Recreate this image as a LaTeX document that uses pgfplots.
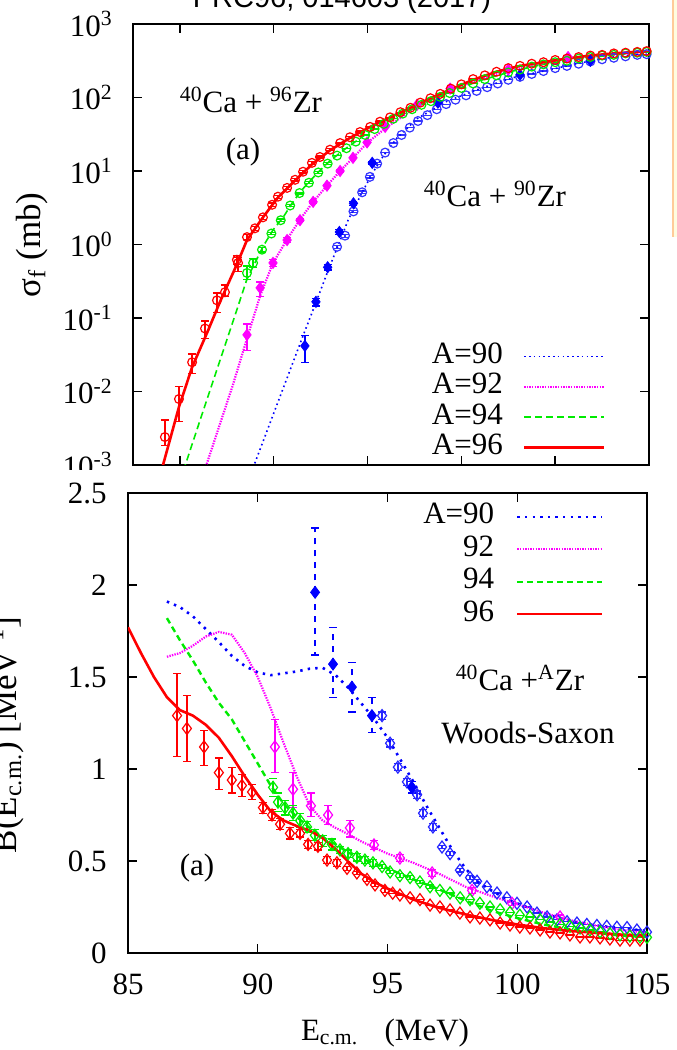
\documentclass[border=0pt]{standalone}
\usepackage{fontspec}
\setmainfont{Liberation Serif}
\newfontfamily\sansfont{Liberation Sans}
\usepackage{pgfplots}
\pgfplotsset{compat=1.18}
\newcommand\fs{\fontsize{15.5}{18}\selectfont}
\newcommand\fl{\fontsize{17.5}{20}\selectfont}
\definecolor{cred}{RGB}{255,0,0}
\definecolor{cgreen}{RGB}{0,235,0}
\definecolor{cmag}{RGB}{255,0,255}
\definecolor{cblue}{RGB}{0,0,255}
\pgfplotsset{
  ebar/.style={/pgfplots/error bars/y dir=both, /pgfplots/error bars/y explicit,
    /pgfplots/error bars/error mark options={rotate=90, mark size=2pt, line width=0.6pt, solid},
    /pgfplots/error bars/error bar style={line width=0.7pt}},
  ebard/.style={/pgfplots/error bars/y dir=both, /pgfplots/error bars/y explicit,
    /pgfplots/error bars/error mark options={rotate=90, mark size=2pt, line width=0.6pt, solid},
    /pgfplots/error bars/error bar style={line width=0.7pt, dashed}},
  common/.style={scale only axis, anchor=south west,
    tick label style={font=\fs},
    major tick length=4.5pt,
    tick style={black, line width=0.7pt},
    axis line style={line width=0.8pt},
    legend cell align=right,
    legend plot pos=right}
}
\begin{document}
\begin{tikzpicture}[x=1pt,y=1pt]
\path[use as bounding box] (0,0) rectangle (338,525);
\node[font=\sansfont\fontsize{14.5}{17}\selectfont, anchor=base] at (171,521) {PRC96, 014603 (2017)};
\fill[yellow!12] (336.5,406.5) rectangle (340,530);
\draw[orange!40, line width=0.6pt] (336.5,406.5) -- (336.5,530);

% ================= TOP PANEL =================
\begin{axis}[common,
  at={(66.5pt,292.5pt)}, width=258pt, height=220.5pt,
  xmin=84, xmax=106, ymode=log, ymin=1e-3, ymax=1e3,
  xtick={86,90,94,98,102}, xticklabels=\empty,
  ytick={1e-3,1e-2,1e-1,1,10,100,1000},
  yticklabels={10\textsuperscript{-3},10\textsuperscript{-2},10\textsuperscript{-1},10\textsuperscript{0},10\textsuperscript{1},10\textsuperscript{2},10\textsuperscript{3}},
  yminorticks=false, xminorticks=false,
  yticklabel style={inner sep=0pt, xshift=-10pt},
  legend image code/.code={\draw[#1] (0pt,0pt) -- (40pt,0pt);},
  legend style={draw=none, fill=none, font=\fs, at={(0.928,0.290)}, anchor=north east,
    nodes={inner sep=0pt, text height=11pt, text depth=4pt}, row sep=0.15pt, column sep=10pt},
]
\addlegendimage{cblue, line width=0.8pt, dash pattern=on 0.8pt off 1.6pt}
\addlegendentry{A=90}
\addlegendimage{cmag, line width=1.1pt, dash pattern=on 0.7pt off 0.6pt}
\addlegendentry{A=92}
\addlegendimage{cgreen, line width=0.8pt, dash pattern=on 3.5pt off 2pt}
\addlegendentry{A=94}
\addlegendimage{cred, line width=1.3pt}
\addlegendentry{A=96}

% blue open circles
\addplot[only marks, cblue!80, mark=o, mark size=2.2pt, mark options={line width=0.6pt}, forget plot, ebar]
table[x=x,y=y,y error plus=ep,y error minus=em]{
x y ep em
92.70 0.93 0.05 0.05
93.04 1.32 0.06 0.06
93.40 2.82 0.1 0.1
93.77 5.13 0.2 0.2
94.10 8.32 0.3 0.3
94.41 12.6 0.4 0.4
94.75 17.8 0 0
95.10 24.0 0 0
95.45 30.9 0 0
95.80 38.9 0 0
96.15 47.9 0 0
96.55 57.5 0 0
96.95 69.2 0 0
97.35 81.3 0 0
97.75 93.3 0 0
98.2 107 0 0
98.65 123 0 0
99.1 138 0 0
99.55 155 0 0
100.0 174 0 0
100.5 191 0 0
101.0 209 0 0
101.5 229 0 0
102.0 251 0 0
102.5 269 0 0
103.0 288 0 0
103.5 309 0 0
104.0 331 0 0
104.5 347 0 0
105.0 363 0 0
105.5 380 0 0
105.9 389 0 0
};
% blue filled diamonds
\addplot[only marks, cblue, mark=diamond*, mark size=2.8pt, forget plot, ebar]
table[x=x,y=y,y error plus=ep,y error minus=em]{
x y ep em
91.33 0.0417 0.016 0.0166
91.8 0.166 0.02 0.02
92.3 0.49 0.04 0.04
92.8 1.48 0.1 0.1
93.4 3.63 0.2 0.2
94.2 12.9 0.5 0.5
97.0 85.1 0 0
100.5 204 0 0
103.5 316 0 0
};
% magenta filled diamonds
\addplot[only marks, cmag, mark=diamond*, mark size=2.8pt, forget plot, ebar]
table[x=x,y=y,y error plus=ep,y error minus=em]{
x y ep em
88.86 0.059 0.024 0.023
89.42 0.257 0.052 0.062
89.97 0.562 0.06 0.06
90.57 1.15 0.08 0.08
91.12 2.14 0.1 0.1
91.68 3.80 0.15 0.15
92.27 6.31 0.2 0.2
92.83 10.0 0.3 0.3
93.38 15.1 0 0
93.98 24.5 0 0
94.75 39.8 0 0
96.11 79.4 0 0
97.52 132 0 0
100.0 240 0 0
102.55 355 0 0
};
% green open circles
\addplot[only marks, cgreen, mark=o, mark size=2.2pt, mark options={line width=0.6pt}, forget plot, ebar]
table[x=x,y=y,y error plus=ep,y error minus=em]{
x y ep em
88.86 0.41 0.10 0.08
89.12 0.56 0.08 0.07
89.5 0.85 0.06 0.06
89.9 1.41 0.05 0.05
90.3 2.14 0.08 0.08
90.7 3.39 0.1 0.1
91.1 5.01 0.15 0.15
91.5 6.92 0.2 0.2
91.9 9.55 0.3 0.3
92.3 12.6 0.4 0.4
92.7 16.2 0 0
93.1 20.4 0 0
93.5 25.1 0 0
93.9 30.9 0 0
94.3 37.2 0 0
94.7 43.7 0 0
95.1 51.3 0 0
95.5 60.3 0 0
95.9 69.2 0 0
96.3 79.4 0 0
96.7 89.1 0 0
97.1 102 0 0
97.5 115 0 0
98.0 135 0 0
98.5 155 0 0
99.0 178 0 0
99.5 200 0 0
100.0 219 0 0
100.5 240 0 0
101.0 263 0 0
101.5 282 0 0
102.0 302 0 0
102.5 316 0 0
103.0 339 0 0
103.5 355 0 0
104.0 372 0 0
104.5 380 0 0
105.0 398 0 0
105.5 407 0 0
105.9 417 0 0
};
% red open circles
\addplot[only marks, cred, mark=o, mark size=2.2pt, mark options={line width=0.6pt}, forget plot, ebar]
table[x=x,y=y,y error plus=ep,y error minus=em]{
x y ep em
85.36 0.0024 0.0017 0.00054
85.96 0.0079 0.0038 0.0040
86.52 0.025 0.0073 0.0073
87.07 0.072 0.019 0.019
87.58 0.174 0.045 0.054
87.92 0.224 0.058 0.029
88.43 0.62 0.08 0.08
88.48 0.56 0.11 0.13
88.86 1.26 0.1 0.1
89.20 1.66 0.1 0.1
89.54 2.34 0.15 0.15
89.93 3.47 0.2 0.2
90.18 4.47 0.2 0.2
90.57 5.89 0.3 0.3
90.91 7.59 0.3 0.3
91.25 9.77 0.4 0.4
91.63 12.9 0.5 0.5
91.97 15.5 0.5 0.5
92.40 19.5 0.6 0.6
92.83 24.0 0.7 0.7
93.25 28.8 0.8 0.8
93.68 33.9 1 1
94.11 39.8 1 1
94.53 46.8 1 1
94.96 53.7 0 0
95.4 63.1 0 0
95.83 72.4 0 0
96.25 85.1 0 0
96.68 97.7 0 0
97.1 112 0 0
97.55 132 0 0
98.0 151 0 0
98.5 178 0 0
99.0 200 0 0
99.5 224 0 0
100.0 251 0 0
100.5 269 0 0
101.0 288 0 0
101.5 302 0 0
102.0 324 0 0
102.5 339 0 0
103.0 355 0 0
103.5 372 0 0
104.0 380 0 0
104.5 398 0 0
105.0 407 0 0
105.5 417 0 0
105.9 427 0 0
};
% curves
\addplot[cblue, line width=0.8pt, dash pattern=on 0.8pt off 1.6pt, forget plot] coordinates {
(88.9,0.0006)(89.2,0.00107)(89.9,0.00417)(90.6,0.0162)(91.3,0.0631)(91.8,0.162)(92.3,0.427)(92.7,0.891)(93.17,2.14)(93.77,5.13)(94.23,9.55)(94.66,15.8)(95.26,28.2)(96.11,51.3)(97.39,89.1)(98.8,132)(100.2,186)(101.65,234)(103.06,295)(104.47,355)(105.9,398)};
\addplot[cmag, line width=1.1pt, dash pattern=on 0.7pt off 0.6pt, forget plot] coordinates {
(86.9,0.0006)(87.16,0.00107)(87.71,0.00363)(88.26,0.0123)(88.86,0.0525)(89.42,0.2)(89.97,0.562)(90.57,1.17)(91.12,2.19)(91.68,3.80)(92.27,6.31)(92.83,10)(93.38,15.1)(93.98,24)(94.75,38)(96.11,75.9)(97.52,126)(99.65,219)(102.55,339)(105.9,417)};
\addplot[cgreen, line width=0.8pt, dash pattern=on 3.5pt off 2pt, forget plot] coordinates {
(86.0,0.0006)(86.26,0.00107)(86.86,0.00407)(87.58,0.02)(88.26,0.089)(88.86,0.339)(89.54,0.933)(89.97,1.58)(90.40,2.34)(90.82,3.80)(91.25,5.75)(91.85,9.33)(92.40,13.8)(93.13,20.9)(93.98,32.4)(94.66,43.7)(95.39,57.5)(96.4,83.2)(97.39,115)(98.8,170)(100.2,229)(101.6,288)(103.06,339)(104.5,380)(105.9,417)};
\addplot[cred, line width=1.3pt, forget plot] coordinates {
(85.0,0.00056)(85.28,0.001)(85.96,0.00617)(86.52,0.0214)(87.16,0.0631)(87.71,0.166)(88.43,0.537)(88.86,1.15)(89.54,2.34)(90.18,4.37)(90.91,7.41)(91.63,12.3)(92.40,19.1)(93.25,28.2)(94.11,39.8)(94.96,53.7)(95.83,72.4)(96.68,97.7)(97.55,129)(98.5,174)(99.5,224)(100.5,269)(101.5,302)(102.5,339)(103.5,372)(104.5,398)(105.9,427)};
\end{axis}

\fill[white] (-5,-5) rectangle (345,290);

% ================= BOTTOM PANEL =================
\begin{axis}[common,
  at={(64pt,48.5pt)}, width=259.5pt, height=230pt,
  xmin=85, xmax=105, ymin=0, ymax=2.5,
  xtick={85,90,95,100,105}, ytick={0,0.5,1,1.5,2,2.5},
  /pgf/number format/assume math mode=true,
  xticklabel style={inner sep=0pt, yshift=-10pt},
  yticklabel style={inner sep=0pt, xshift=-10.5pt},
  legend image code/.code={\draw[#1] (0pt,0pt) -- (42.5pt,0pt);},
  legend style={draw=none, fill=none, font=\fs, at={(0.929,0.990)}, anchor=north east,
    nodes={inner sep=0pt, text height=11pt, text depth=4pt}, row sep=1.2pt, column sep=11pt},
]
\addlegendimage{cblue, line width=1.3pt, dash pattern=on 1.2pt off 2.6pt}
\addlegendentry{A=90}
\addlegendimage{cmag, line width=1.1pt, dash pattern=on 0.7pt off 0.6pt}
\addlegendentry{92}
\addlegendimage{cgreen, line width=1.2pt, dash pattern=on 3pt off 2pt}
\addlegendentry{94}
\addlegendimage{cred, line width=1.3pt}
\addlegendentry{96}

% blue open diamonds
\addplot[only marks, cblue!85, mark=diamond, mark size=3pt, mark options={line width=0.6pt}, forget plot, ebar]
table[x=x,y=y,y error plus=ep,y error minus=em]{
x y ep em
94.79 1.29 0.02 0.02
95.1 1.14 0.02 0.02
95.4 1.01 0.02 0.02
95.75 0.93 0.02 0.02
96.14 0.86 0.02 0.02
96.37 0.76 0.02 0.02
96.75 0.685 0.02 0.02
97.1 0.576 0.01 0.01
97.41 0.54 0.01 0.01
97.79 0.45 0.01 0.01
98.18 0.41 0.01 0.01
98.45 0.39 0.01 0.01
98.83 0.36 0 0
99.22 0.326 0 0
99.6 0.30 0 0
99.99 0.27 0 0
100.38 0.25 0 0
100.76 0.217 0 0
101.15 0.196 0 0
101.53 0.18 0 0
101.92 0.17 0 0
102.3 0.163 0 0
102.68 0.155 0 0
103.07 0.15 0 0
103.45 0.145 0 0
103.84 0.14 0 0
104.23 0.138 0 0
104.61 0.125 0 0
105.0 0.114 0 0
};
% blue filled diamonds
\addplot[only marks, cblue, mark=diamond*, mark size=3pt, forget plot, ebard]
table[x=x,y=y,y error plus=ep,y error minus=em]{
x y ep em
92.21 1.96 0.35 0.34
92.9 1.57 0.20 0.18
93.63 1.445 0.135 0.135
94.4 1.29 0.10 0.09
95.94 0.90 0.03 0.03
};
% magenta open diamonds
\addplot[only marks, cmag, mark=diamond, mark size=3pt, mark options={line width=0.6pt}, forget plot, ebar]
table[x=x,y=y,y error plus=ep,y error minus=em]{
x y ep em
90.66 1.12 0.15 0.14
91.36 0.89 0.09 0.10
92.05 0.80 0.07 0.06
92.71 0.75 0.05 0.05
93.55 0.68 0.04 0.05
94.48 0.587 0.025 0.025
95.48 0.516 0.02 0.02
96.72 0.435 0.02 0.02
98.26 0.34 0.015 0.015
99.8 0.27 0.01 0.01
101.65 0.196 0.01 0.01
};
% green open diamonds
\addplot[only marks, cgreen, mark=diamond, mark size=3pt, mark options={line width=0.6pt}, forget plot, ebard]
table[x=x,y=y,y error plus=ep,y error minus=em]{
x y ep em
90.59 0.90 0.05 0.05
90.78 0.82 0.05 0.05
91.05 0.79 0.04 0.04
91.36 0.76 0.04 0.04
91.63 0.72 0.04 0.04
91.9 0.685 0.03 0.03
92.2 0.64 0.03 0.03
92.5 0.61 0.03 0.03
92.86 0.59 0.03 0.03
93.17 0.56 0.02 0.02
93.48 0.54 0.02 0.02
93.82 0.52 0.02 0.02
94.13 0.505 0.02 0.02
94.44 0.49 0.02 0.02
94.79 0.47 0.01 0.01
95.1 0.44 0.01 0.01
95.48 0.42 0.01 0.01
95.87 0.41 0.01 0.01
96.25 0.386 0.01 0.01
96.64 0.36 0.01 0.01
97.02 0.34 0 0
97.41 0.326 0 0
97.8 0.30 0 0
98.18 0.29 0 0
98.56 0.27 0 0
98.95 0.25 0 0
99.34 0.235 0 0
99.72 0.22 0 0
100.1 0.205 0 0
100.49 0.196 0 0
100.88 0.18 0 0
101.26 0.168 0 0
101.65 0.155 0 0
102.03 0.145 0 0
102.42 0.136 0 0
102.8 0.125 0 0
103.19 0.115 0 0
103.57 0.105 0 0
103.96 0.098 0 0
104.34 0.092 0 0
104.73 0.087 0 0
105.0 0.085 0 0
};
% red open diamonds
\addplot[only marks, cred, mark=diamond, mark size=3pt, mark options={line width=0.6pt}, forget plot, ebar]
table[x=x,y=y,y error plus=ep,y error minus=em]{
x y ep em
86.89 1.29 0.23 0.22
87.27 1.22 0.18 0.18
87.93 1.12 0.09 0.10
88.5 0.98 0.08 0.09
89.0 0.94 0.07 0.07
89.39 0.91 0.06 0.06
89.78 0.875 0.04 0.04
90.2 0.79 0.03 0.03
90.55 0.75 0.03 0.03
90.86 0.70 0.03 0.03
91.24 0.65 0.03 0.03
91.63 0.65 0.02 0.02
91.94 0.59 0.02 0.02
92.32 0.58 0.02 0.02
92.67 0.505 0.02 0.02
93.05 0.49 0.02 0.02
93.44 0.46 0.01 0.01
93.82 0.435 0.01 0.01
94.21 0.40 0.01 0.01
94.52 0.37 0.01 0.01
94.9 0.34 0.01 0.01
95.2 0.325 0 0
95.48 0.315 0 0
95.87 0.30 0 0
96.25 0.29 0 0
96.64 0.26 0 0
97.02 0.25 0 0
97.41 0.234 0 0
97.79 0.217 0 0
98.18 0.196 0 0
98.56 0.19 0 0
98.95 0.18 0 0
99.34 0.163 0 0
99.72 0.152 0 0
100.1 0.141 0 0
100.49 0.136 0 0
100.88 0.125 0 0
101.26 0.114 0 0
101.65 0.109 0 0
102.03 0.098 0 0
102.42 0.087 0 0
102.8 0.087 0 0
103.19 0.082 0 0
103.57 0.076 0 0
103.96 0.07 0 0
104.34 0.07 0 0
104.73 0.07 0 0
};
% curves
\addplot[cblue, line width=1.3pt, dash pattern=on 1.2pt off 2.6pt, forget plot] coordinates {
(86.5,1.91)(87.0,1.88)(87.5,1.83)(88.0,1.76)(88.5,1.69)(89.0,1.615)(89.5,1.56)(90.0,1.525)(90.5,1.51)(91.0,1.52)(91.5,1.53)(92.0,1.545)(92.5,1.55)(93.0,1.51)(93.5,1.44)(94.0,1.355)(94.5,1.27)(95.0,1.17)(95.5,1.05)(96.0,0.93)(96.5,0.80)(97.0,0.68)(97.5,0.56)(98.0,0.46)(98.5,0.385)(99.0,0.34)(99.5,0.30)(100.0,0.27)(101.0,0.215)(102.0,0.175)(103.0,0.15)(104.0,0.135)(105.0,0.12)};
\addplot[cmag, line width=1.1pt, dash pattern=on 0.7pt off 0.6pt, forget plot] coordinates {
(86.5,1.61)(87.0,1.63)(87.5,1.67)(88.0,1.72)(88.5,1.745)(89.0,1.73)(89.5,1.63)(90.0,1.50)(90.5,1.33)(91.0,1.14)(91.5,0.96)(92.0,0.80)(92.5,0.72)(93.0,0.68)(93.5,0.645)(94.0,0.605)(95.0,0.54)(96.0,0.49)(97.0,0.43)(98.0,0.36)(99.0,0.31)(100.0,0.265)(101.0,0.22)(102.0,0.18)(103.0,0.15)(104.0,0.125)(105.0,0.11)};
\addplot[cgreen, line width=1.2pt, dash pattern=on 3pt off 2pt, forget plot] coordinates {
(86.5,1.82)(87.0,1.70)(87.5,1.59)(88.0,1.47)(88.5,1.36)(89.0,1.27)(89.5,1.15)(90.0,1.03)(90.5,0.91)(91.0,0.81)(91.5,0.74)(92.0,0.68)(92.5,0.63)(93.0,0.59)(93.5,0.545)(94.0,0.515)(94.5,0.485)(95.0,0.46)(95.5,0.43)(96.0,0.40)(97.0,0.345)(98.0,0.285)(99.0,0.23)(100.0,0.19)(101.0,0.155)(102.0,0.13)(103.0,0.11)(104.0,0.095)(105.0,0.087)};
\addplot[cred, line width=1.3pt, forget plot] coordinates {
(85.0,1.77)(85.5,1.63)(86.0,1.50)(86.5,1.39)(87.0,1.32)(87.5,1.29)(88.0,1.24)(88.5,1.17)(89.0,1.07)(89.5,0.96)(90.0,0.86)(90.5,0.77)(91.0,0.72)(91.5,0.69)(92.0,0.665)(92.5,0.625)(93.0,0.565)(93.5,0.495)(94.0,0.43)(94.5,0.385)(95.0,0.35)(95.5,0.32)(96.0,0.29)(97.0,0.245)(98.0,0.21)(99.0,0.18)(100.0,0.155)(101.0,0.135)(102.0,0.12)(103.0,0.11)(104.0,0.10)(105.0,0.095)};
\end{axis}

% ================= TEXT =================
\node[font=\fl, rotate=90, anchor=base] at (20,402.5) {σ\textsubscript{f} (mb)};
\node[font=\fl, rotate=90, anchor=base] at (8,157.5) {B(E\textsubscript{c.m.}) [MeV\textsuperscript{-1}]};
\node[font=\fs, anchor=base] at (192.5,5) {E\textsubscript{c.m.}\hspace{0.85em}(MeV)};
\node[font=\fs] at (125.5,475) {\textsuperscript{40}Ca + \textsuperscript{96}Zr};
\node[font=\fs] at (121.5,449) {(a)};
\node[font=\fs] at (247.5,428) {\textsuperscript{40}Ca + \textsuperscript{90}Zr};
\node[font=\fs] at (260,186) {\textsuperscript{40}Ca +\textsuperscript{A}Zr};
\node[font=\fs] at (264,158.5) {Woods-Saxon};
\node[font=\fs] at (98.5,91) {(a)};
\end{tikzpicture}
\end{document}
